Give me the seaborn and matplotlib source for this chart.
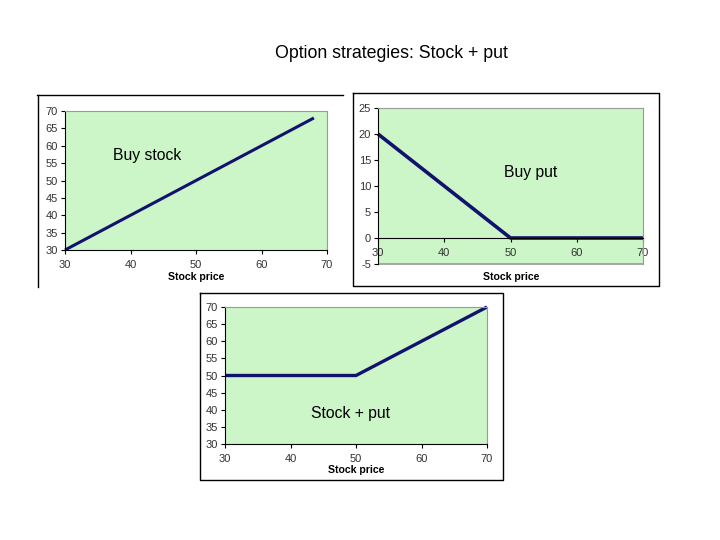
import matplotlib
matplotlib.use("Agg")
import matplotlib.pyplot as plt
import seaborn as sns
import pandas as pd
from matplotlib.lines import Line2D

# ---- data ----
stock_x = [30, 68]
stock_y = [30, 68]
put_x = [30, 50, 70]
put_y = [20, 0, 0]
combo_x = [30, 50, 70]
combo_y = [50, 50, 70]

x_ticks = [30, 40, 50, 60, 70]
y_ticks_stock = [30, 35, 40, 45, 50, 55, 60, 65, 70]
y_ticks_put = [-5, 0, 5, 10, 15, 20, 25]

title = "Option strategies: Stock + put"
xlabel = "Stock price"
labels = ["Buy stock", "Buy put", "Stock + put"]

plt.rcParams['font.family'] = ['Liberation Sans', 'DejaVu Sans']
plt.rcParams['axes.unicode_minus'] = False

LINE = "#12126e"
BG = "#ccf5c8"
W, H = 720, 540

fig = plt.figure(figsize=(7.2, 5.4), dpi=100)
fig.patch.set_facecolor("white")


def rect(l, r, t, b):
    return [l / W, 1 - b / H, (r - l) / W, (b - t) / H]


def fline(xs, ys):
    fig.add_artist(Line2D([x / W for x in xs], [1 - y / H for y in ys],
                          color="black", lw=1.0, transform=fig.transFigure))


# outer frames
fline([37, 343], [95, 95])
fline([38, 38], [95, 287])
fline([353, 659, 659, 353, 353], [93, 93, 286, 286, 93])
fline([200, 503, 503, 200, 200], [293, 293, 480, 480, 293])

fig.text(391 / W, 1 - 53.5 / H, title, ha="center", va="center", fontsize=12.8)


def style(ax, yticks, ylim):
    ax.set_facecolor(BG)
    ax.set_xlim(30, 70)
    ax.set_ylim(*ylim)
    ax.set_xticks(x_ticks)
    ax.set_yticks(yticks)
    ax.tick_params(axis="both", labelsize=8, length=3, width=0.8,
                   direction="out", colors="black", labelcolor="#333333", pad=2)
    ax.tick_params(axis="x", pad=4)
    for s in ["top", "right"]:
        ax.spines[s].set_color("#9a9a9a")
        ax.spines[s].set_linewidth(0.8)
    ax.spines["left"].set_color("black")
    ax.spines["bottom"].set_color("black")
    ax.spines["left"].set_linewidth(0.8)
    ax.spines["bottom"].set_linewidth(0.8)
    ax.set_ylabel("")
    ax.set_xlabel("")


# panel 1
ax1 = fig.add_axes(rect(65, 327, 111, 250))
sns.lineplot(data=pd.DataFrame({"x": stock_x, "y": stock_y}), x="x", y="y",
             ax=ax1, color=LINE, lw=2.2)
style(ax1, y_ticks_stock, (30, 70))
ax1.text(42.5, 57.3, labels[0], ha="center", va="center", fontsize=11.3)
fig.text(196 / W, 1 - 276.5 / H, xlabel, ha="center", va="center",
         fontsize=7.6, fontweight="bold")

# panel 2
ax2 = fig.add_axes(rect(378, 643, 108, 264))
sns.lineplot(data=pd.DataFrame({"x": put_x, "y": put_y}), x="x", y="y",
             ax=ax2, color=LINE, lw=2.6)
style(ax2, y_ticks_put, (-5, 25))
ax2.spines["bottom"].set_position(("data", 0))
ax2.axhline(-5, color="#9a9a9a", lw=1.2, zorder=0.5)
ax2.text(53.1, 12.5, labels[1], ha="center", va="center", fontsize=11.3)
fig.text(511 / W, 1 - 276.5 / H, xlabel, ha="center", va="center",
         fontsize=7.6, fontweight="bold")

# panel 3
ax3 = fig.add_axes(rect(225, 487, 307, 444))
sns.lineplot(data=pd.DataFrame({"x": combo_x, "y": combo_y}), x="x", y="y",
             ax=ax3, color=LINE, lw=2.4)
style(ax3, y_ticks_stock, (30, 70))
ax3.text(49.1, 38.8, labels[2], ha="center", va="center", fontsize=11.3)
fig.text(356 / W, 1 - 470 / H, xlabel, ha="center", va="center",
         fontsize=7.6, fontweight="bold")

for ax in (ax1, ax2, ax3):
    for ln in ax.lines:
        ln.set_clip_on(False)
        ln.set_solid_capstyle("butt")

fig.savefig("out.png", dpi=100)
